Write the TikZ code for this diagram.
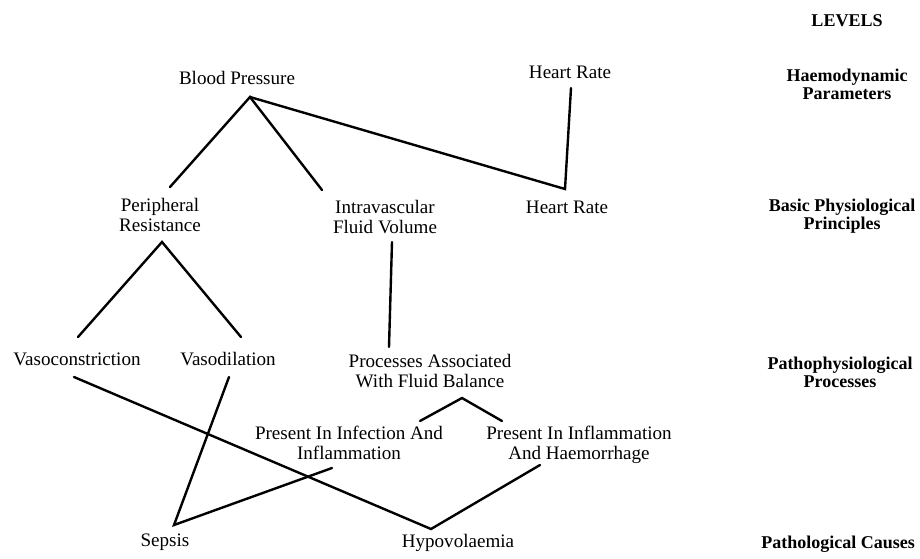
\documentclass[tikz,border=0pt]{standalone}
\usepackage{fontspec}
\setmainfont{Liberation Serif}
\begin{document}
\begin{tikzpicture}[
  x=0.75pt, y=-0.75pt,
  concept/.style={anchor=base, inner sep=0pt, align=center,
    font=\fontsize{14.3}{15}\selectfont},
  level/.style={anchor=base, inner sep=0pt, align=center,
    font=\fontsize{13.5}{13.5}\selectfont\bfseries},
  link/.style={line width=1.8pt, line cap=round, line join=miter}
]
\useasboundingbox (0,0) rectangle (920,558);

% ---- level labels (right column); multi-line nodes sit on their last baseline
\node[level] (levels) at (847,26)  {LEVELS};
\node[level] (haem)   at (847,99)  {Haemodynamic\\Parameters};
\node[level] (basic)  at (842,229) {Basic Physiological\\Principles};
\node[level] (patho)  at (840,387) {Pathophysiological\\Processes};
\node[level] (causes) at (838,548) {Pathological Causes};

% ---- concepts
\node[concept] (bp)   at (237,84)  {Blood Pressure};
\node[concept] (hr1)  at (570,78)  {Heart Rate};
\node[concept] (pr)   at (160,231) {Peripheral\\Resistance};
\node[concept] (ifv)  at (385,233) {Intravascular\\Fluid Volume};
\node[concept] (hr2)  at (567,213) {Heart Rate};
\node[concept] (vc)   at (77,365)  {Vasoconstriction};
\node[concept] (vd)   at (228,365) {Vasodilation};
\node[concept] (pafb) at (430,387) {Processes Associated\\With Fluid Balance};
\node[concept] (pii)  at (349,459) {Present In Infection And\\Inflammation};
\node[concept] (pih)  at (579,459) {Present In Inflammation\\And Haemorrhage};
\node[concept] (sep)  at (165,546) {Sepsis};
\node[concept] (hyp)  at (458,547) {Hypovolaemia};

% ---- connector end points
\coordinate (bpJ)    at (250,97);
\coordinate (prTop)  at (170,187);
\coordinate (ifvTop) at (322,190);
\coordinate (hr2J)   at (565,189);
\coordinate (hr1Bot) at (571,88);
\coordinate (prJ)    at (162,242);
\coordinate (vcTop)  at (78,337);
\coordinate (vdTop)  at (241,337);
\coordinate (ifvBot) at (392,242);
\coordinate (pafbTop)at (389,347);
\coordinate (vcBot)  at (74,377);
\coordinate (hypJ)   at (431,529);
\coordinate (pihBot) at (540,465);
\coordinate (vdBot)  at (229,377);
\coordinate (sepJ)   at (174,525);
\coordinate (piiBot) at (332,468);
\coordinate (pafbJ)  at (462,398);
\coordinate (piiTop) at (420,421);
\coordinate (pihTop) at (502,421);

% ---- connectors
\draw[link] (prTop) -- (bpJ) -- (ifvTop);
\draw[link] (bpJ) -- (hr2J) -- (hr1Bot);
\draw[link] (vcTop) -- (prJ) -- (vdTop);
\draw[link] (ifvBot) -- (pafbTop);
\draw[link] (piiTop) -- (pafbJ) -- (pihTop);
\draw[link] (vcBot) -- (hypJ) -- (pihBot);
\draw[link] (vdBot) -- (sepJ) -- (piiBot);
\end{tikzpicture}
\end{document}
